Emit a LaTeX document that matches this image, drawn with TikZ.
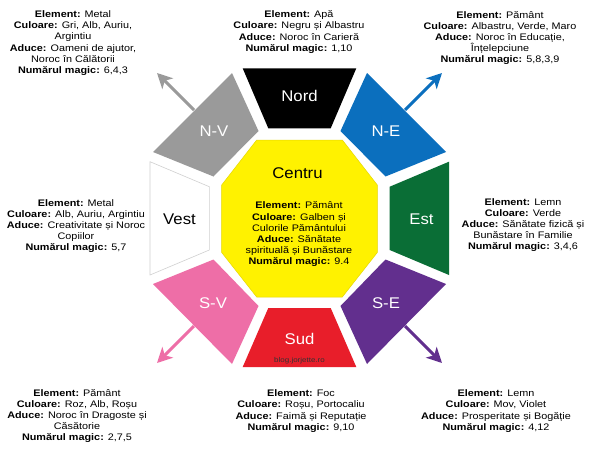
\documentclass[tikz,border=0pt]{standalone}
\usepackage{fontspec}
\setmainfont{Liberation Sans}
\newfontfamily\infof[FakeStretch=1.14]{Liberation Sans}
\newfontfamily\lblf[FakeStretch=1.08]{Liberation Sans}
\usetikzlibrary{arrows.meta}
\definecolor{cgray}{HTML}{9A9A9A}
\definecolor{cblue}{HTML}{0B6FBE}
\definecolor{cgreen}{HTML}{0A6E36}
\definecolor{cpink}{HTML}{EE6EA7}
\definecolor{cpurple}{HTML}{622F8E}
\definecolor{cred}{HTML}{E81E2A}
\definecolor{cyellow}{HTML}{FFF200}
\definecolor{cyedge}{HTML}{E6D800}
\definecolor{cwedge}{HTML}{D0D0D0}
\begin{document}
\begin{tikzpicture}[x=1pt,y=-1pt,
  info/.style={align=center,font=\infof\fontsize{9.5}{11.2}\selectfont,inner sep=0pt},
  lbl/.style={font=\lblf\fontsize{15.5}{18}\selectfont,inner sep=0pt,text=white},
  arr/.style={line width=3pt,-{Stealth[length=15pt,width=15pt,inset=4pt]}}]
\useasboundingbox (0,0) rectangle (600,450);
\fill[white] (0,0) rectangle (600,450);

% arrow coordinates
\coordinate (nvs) at (194,110);  \coordinate (nvt) at (157,73);
\coordinate (nes) at (405,110);  \coordinate (net) at (442,73);
\coordinate (svs) at (194,326);  \coordinate (svt) at (157,363);
\coordinate (ses) at (405,326);  \coordinate (set) at (442,363);
\draw[arr,cgray] (nvs) -- (nvt);
\draw[arr,cblue] (nes) -- (net);
\draw[arr,cpink] (svs) -- (svt);
\draw[arr,cpurple] (ses) -- (set);

% pieces
\fill[black] (242.7,68.3) -- (356.3,68.3) -- (330.7,128.3) -- (268.3,128.3) -- cycle;
\fill[cgray] (232,73) -- (258.5,131) -- (213.5,176.5) -- (153,152) -- cycle;
\fill[cblue] (367,73) -- (340.5,131) -- (385.5,176.5) -- (446,152) -- cycle;
\filldraw[fill=white,draw=cwedge,line width=0.6pt] (150,161.7) -- (209.3,186.7) -- (209.3,250) -- (150,275) -- cycle;
\fill[cgreen] (449,161.7) -- (389.7,186.7) -- (389.7,250) -- (449,275) -- cycle;
\fill[cpink] (232,364) -- (258.5,306) -- (213.5,259.5) -- (153,284) -- cycle;
\fill[cpurple] (367,364) -- (340.5,306) -- (385.5,259.5) -- (446,284) -- cycle;
\fill[cred] (268.3,308) -- (330.7,308) -- (356.3,367) -- (242.7,367) -- cycle;
\filldraw[fill=cyellow,draw=cyedge,line width=0.5pt] (256.7,140) -- (342.3,140) -- (377.3,185) -- (377.3,252.5) -- (342.3,297) -- (256.7,297) -- (221.7,252.5) -- (221.7,185) -- cycle;

% labels
\node[lbl] (nord) at (299.5,96) {Nord};
\node[lbl] (nv) at (214,131) {N-V};
\node[lbl] (ne) at (386,131) {N-E};
\node[lbl,text=black] (vest) at (179.5,219) {Vest};
\node[lbl] (est) at (421.5,219) {Est};
\node[lbl] (sv) at (213,303) {S-V};
\node[lbl] (se) at (386,303) {S-E};
\node[lbl] (sud) at (299.5,338.5) {Sud};
\node[lbl,text=black] (centru) at (297.5,173.5) {Centru};
\node[inner sep=0pt,font=\infof\fontsize{7}{8}\selectfont,text=black!80,anchor=base] (blog) at (299.5,362) {blog.jorjette.ro};

% info blocks
\node[info] (inv) at (73,43) {\textbf{Element:} Metal\\\textbf{Culoare:} Gri, Alb, Auriu,\\Argintiu\\\textbf{Aduce:} Oameni de ajutor,\\Noroc în Călătorii\\\textbf{Numărul magic:} 6,4,3};
\node[info] (in) at (299,32) {\textbf{Element:} Apă\\\textbf{Culoare:} Negru și Albastru\\\textbf{Aduce:} Noroc în Carieră\\\textbf{Numărul magic:} 1,10};
\node[info] (ine) at (500,38) {\textbf{Element:} Pământ\\\textbf{Culoare:} Albastru, Verde, Maro\\\textbf{Aduce:} Noroc în Educație,\\Înțelepciune\\\textbf{Numărul magic:} 5,8,3,9};
\node[info] (iv) at (76,226) {\textbf{Element:} Metal\\\textbf{Culoare:} Alb, Auriu, Argintiu\\\textbf{Aduce:} Creativitate și Noroc\\Copiilor\\\textbf{Numărul magic:} 5,7};
\node[info] (ie) at (523,225) {\textbf{Element:} Lemn\\\textbf{Culoare:} Verde\\\textbf{Aduce:} Sănătate fizică și\\Bunăstare în Familie\\\textbf{Numărul magic:} 3,4,6};
\node[info] (isv) at (77,416) {\textbf{Element:} Pământ\\\textbf{Culoare:} Roz, Alb, Roșu\\\textbf{Aduce:} Noroc în Dragoste și\\Căsătorie\\\textbf{Numărul magic:} 2,7,5};
\node[info] (is) at (301,411) {\textbf{Element:} Foc\\\textbf{Culoare:} Roșu, Portocaliu\\\textbf{Aduce:} Faimă și Reputație\\\textbf{Numărul magic:} 9,10};
\node[info] (ise) at (496,411) {\textbf{Element:} Lemn\\\textbf{Culoare:} Mov, Violet\\\textbf{Aduce:} Prosperitate și Bogăție\\\textbf{Numărul magic:} 4,12};
\node[info] (ic) at (299,234.5) {\textbf{Element:} Pământ\\\textbf{Culoare:} Galben și\\Culorile Pământului\\\textbf{Aduce:} Sănătate\\spirituală și Bunăstare\\\textbf{Numărul magic:} 9.4};
\end{tikzpicture}
\end{document}
